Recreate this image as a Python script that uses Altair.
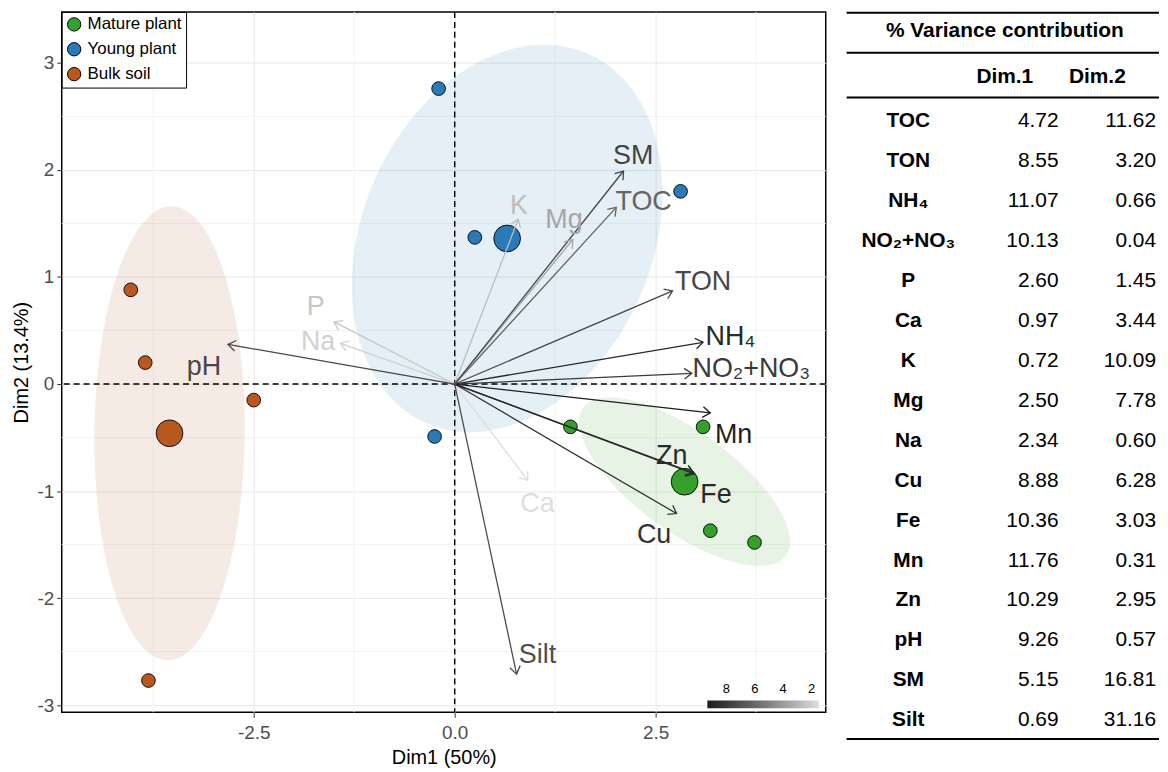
import altair as alt
import numpy as np
import pandas as pd

FONT = "Liberation Sans"

# ---------------- individuals (PCA scores) ----------------
ind_group = ["Mature plant"] * 4 + ["Young plant"] * 4 + ["Bulk soil"] * 4
ind_x = [1.44, 3.09, 3.18, 3.73, -0.20, 0.25, 2.81, -0.25, -4.03, -3.85, -2.50, -3.81]
ind_y = [-0.40, -0.40, -1.37, -1.48, 2.76, 1.37, 1.80, -0.49, 0.88, 0.20, -0.15, -2.77]

group_names = ["Mature plant", "Young plant", "Bulk soil"]
group_colors = ["#36a02d", "#2a7ab8", "#b8581f"]

# ---------------- variables (arrows) ----------------
var_names = ["TOC", "TON", "NH₄", "NO₂+NO₃", "P", "Ca", "K", "Mg", "Na", "Cu", "Fe", "Mn", "Zn", "pH", "SM", "Silt"]
var_x = [2.01, 2.71, 3.09, 2.95, -1.50, 0.91, 0.79, 1.47, -1.42, 2.76, 2.98, 3.18, 2.97, -2.82, 2.10, 0.77]
var_y = [1.65, 0.87, 0.39, 0.10, 0.58, -0.90, 1.54, 1.35, 0.38, -1.21, -0.84, -0.27, -0.83, 0.37, 1.99, -2.71]
lab_x = [2.35, 3.09, 3.43, 3.69, -1.73, 1.03, 0.80, 1.36, -1.70, 2.48, 3.25, 3.47, 2.70, -3.12, 2.22, 1.03]
lab_y = [1.70, 0.95, 0.44, 0.14, 0.72, -1.12, 1.66, 1.53, 0.39, -1.41, -1.04, -0.48, -0.67, 0.16, 2.13, -2.53]

# ---------------- table: % variance contribution ----------------
contrib_dim1 = [4.72, 8.55, 11.07, 10.13, 2.60, 0.97, 0.72, 2.50, 2.34, 8.88, 10.36, 11.76, 10.29, 9.26, 5.15, 0.69]
contrib_dim2 = [11.62, 3.20, 0.66, 0.04, 1.45, 3.44, 10.09, 7.78, 0.60, 6.28, 3.03, 0.31, 2.95, 0.57, 16.81, 31.16]
eig_pct = [50.0, 13.4]

# axis ticks
x_major = [-2.5, 0.0, 2.5]
x_minor = [-3.75, -1.25, 1.25, 3.75]
y_major = [-3, -2, -1, 0, 1, 2, 3]
y_minor = [-2.5, -1.5, -0.5, 0.5, 1.5, 2.5]
legend_values = [8, 6, 4, 2]

# ---------------- derived frames ----------------
ind_df = pd.DataFrame({"group": ind_group, "x": ind_x, "y": ind_y})
ind_df["kind"] = 0
means = ind_df.groupby("group", sort=False)[["x", "y"]].mean().reset_index()
means["kind"] = 1
pts_df = pd.concat([ind_df, means], ignore_index=True)

# normal-theory ellipses (stat_ellipse type="norm", level 0.5)
ell_rows = []
t = np.linspace(0, 2 * np.pi, 121)
for g in group_names:
    sub = ind_df[ind_df.group == g][["x", "y"]].to_numpy()
    m = sub.mean(axis=0)
    cov = np.cov(sub.T)
    d = len(sub) - 1
    level = 0.5
    fq = d / 2 * ((1 - level) ** (-2 / d) - 1)
    r = np.sqrt(2 * fq)
    vals, vecs = np.linalg.eigh(cov)
    circ = np.stack([np.cos(t), np.sin(t)])
    e = m[:, None] + r * (vecs @ (np.sqrt(vals)[:, None] * circ))
    for i in range(len(t)):
        ell_rows.append({"group": g, "ex": e[0, i], "ey": e[1, i], "idx": i})
ell_df = pd.DataFrame(ell_rows)

contrib_12 = [(a * eig_pct[0] + b * eig_pct[1]) / sum(eig_pct) for a, b in zip(contrib_dim1, contrib_dim2)]
PX_X, PX_Y = 80.8, 107.6  # pixel per unit (for arrow-head orientation)
angles = [(-np.degrees(np.arctan2(vy * PX_Y, vx * PX_X))) % 360 for vx, vy in zip(var_x, var_y)]
var_df = pd.DataFrame({
    "name": var_names, "vx": var_x, "vy": var_y, "lx": lab_x, "ly": lab_y,
    "contrib": contrib_12, "ang": angles, "ox": 0.0, "oy": 0.0,
})

xscale = alt.Scale(domain=[-4.889, 4.616], nice=False, zero=False)
yscale = alt.Scale(domain=[-3.067, 3.476], nice=False, zero=False)

x_axis = alt.Axis(
    values=x_major, grid=True, gridColor="#e8e8e8", gridWidth=1,
    labelExpr="datum.value < 0 ? '-' + format(-datum.value, '.1f') : format(datum.value, '.1f')",
    labelFont=FONT, labelFontSize=19, labelColor="#4d4d4d", labelPadding=6,
    tickColor="#333333", tickSize=5, domain=False,
    title="Dim1 (50%)", titleFont=FONT, titleFontSize=20, titleFontWeight="normal",
    titleColor="black", titlePadding=5,
)
y_axis = alt.Axis(
    values=y_major, grid=True, gridColor="#e8e8e8", gridWidth=1,
    labelExpr="datum.value < 0 ? '-' + format(-datum.value, 'd') : format(datum.value, 'd')",
    labelFont=FONT, labelFontSize=19, labelColor="#4d4d4d", labelPadding=3,
    tickColor="#333333", tickSize=5, domain=False,
    title="Dim2 (13.4%)", titleFont=FONT, titleFontSize=20, titleFontWeight="normal",
    titleColor="black", titlePadding=6,
)

minor_x_df = pd.DataFrame({"v": x_minor})
minor_y_df = pd.DataFrame({"v": y_minor})
grid_x = alt.Chart(minor_x_df).mark_rule(color="#f3f3f3", strokeWidth=1).encode(
    x=alt.X("v:Q", scale=xscale, axis=x_axis))
grid_y = alt.Chart(minor_y_df).mark_rule(color="#f3f3f3", strokeWidth=1).encode(
    y=alt.Y("v:Q", scale=yscale, axis=y_axis))

ellipses = alt.Chart(ell_df).mark_line(filled=True, fillOpacity=0.12, strokeWidth=0).encode(
    x=alt.X("ex:Q", scale=xscale),
    y=alt.Y("ey:Q", scale=yscale),
    order="idx:Q",
    detail="group:N",
    color=alt.Color("group:N", scale=alt.Scale(domain=group_names, range=group_colors), legend=None),
)

zero_df = pd.DataFrame({"v": [0.0]})
zero_x = alt.Chart(zero_df).mark_rule(color="black", strokeDash=[6, 4], strokeWidth=1.4).encode(
    x=alt.X("v:Q", scale=xscale))
zero_y = alt.Chart(zero_df).mark_rule(color="black", strokeDash=[6, 4], strokeWidth=1.4).encode(
    y=alt.Y("v:Q", scale=yscale))

points = alt.Chart(pts_df).mark_point(filled=True, shape="circle", stroke="black", strokeWidth=0.9, opacity=1).encode(
    x=alt.X("x:Q", scale=xscale),
    y=alt.Y("y:Q", scale=yscale),
    fill=alt.Fill("group:N", scale=alt.Scale(domain=group_names, range=group_colors),
                  legend=alt.Legend(title=None, orient="none", legendX=0, legendY=0, padding=4,
                                    fillColor="white", strokeColor="black",
                                    labelFont=FONT, labelFontSize=17, labelColor="black",
                                    labelOffset=5, symbolType="circle", symbolSize=180,
                                    symbolStrokeColor="black", symbolStrokeWidth=1,
                                    symbolOpacity=1, rowPadding=6, cornerRadius=0)),
    size=alt.Size("kind:Q", scale=alt.Scale(domain=[0, 1], range=[190, 720]), legend=None),
)

stroke_scale = alt.Scale(domain=[max(contrib_12), min(contrib_12)], range=["#1e1e1e", "#dedede"])
stroke_legend = alt.Legend(title=None, orient="none", legendX=649, legendY=692, padding=0,
                           direction="horizontal",
                           gradientLength=112, gradientThickness=8, values=legend_values,
                           labelFont=FONT, labelFontSize=13, labelColor="black",
                           labelOffset=alt.ExprRef(expr="-25"), gradientStrokeWidth=0)

arrows = alt.Chart(var_df).mark_rule(strokeWidth=1.3).encode(
    x=alt.X("ox:Q", scale=xscale), y=alt.Y("oy:Q", scale=yscale),
    x2="vx:Q", y2="vy:Q",
    stroke=alt.Stroke("contrib:Q", scale=stroke_scale, legend=stroke_legend),
)
heads = alt.Chart(var_df).mark_point(shape="M -1 -0.7 L 0 0 L -1 0.7", filled=False, size=230,
                                     strokeWidth=1.3, opacity=1).encode(
    x=alt.X("vx:Q", scale=xscale), y=alt.Y("vy:Q", scale=yscale),
    angle=alt.Angle("ang:Q", scale=None),
    stroke=alt.Stroke("contrib:Q", scale=stroke_scale, legend=stroke_legend),
)
labels = alt.Chart(var_df).mark_text(font=FONT, fontSize=27, align="center", baseline="middle").encode(
    x=alt.X("lx:Q", scale=xscale), y=alt.Y("ly:Q", scale=yscale),
    text="name:N",
    color=alt.Color("contrib:Q", scale=stroke_scale, legend=None),
)

plot = alt.layer(grid_x, grid_y, ellipses, zero_x, zero_y, points, arrows, heads, labels).resolve_scale(
    color="independent"
).properties(width=768, height=704, view=alt.ViewBackground(stroke="black", strokeWidth=1.5))

# ---------------- table ----------------
tbl_df = pd.DataFrame({
    "name": var_names,
    "d1": [f"{v:.2f}" for v in contrib_dim1],
    "d2": [f"{v:.2f}" for v in contrib_dim2],
    "row": list(range(len(var_names))),
})
TW = 314
tyscale = alt.Scale(domain=[-2.74, 14.8], reverse=True, nice=False, zero=False)

t_names = alt.Chart(tbl_df).mark_text(font=FONT, fontSize=21, fontWeight="bold", align="center",
                                      baseline="middle", color="black").encode(
    x=alt.value(62), y=alt.Y("row:Q", scale=tyscale, axis=None), text="name:N")
t_d1 = alt.Chart(tbl_df).mark_text(font=FONT, fontSize=21, align="right", baseline="middle",
                                   color="black").encode(
    x=alt.value(213), y=alt.Y("row:Q", scale=tyscale, axis=None), text="d1:N")
t_d2 = alt.Chart(tbl_df).mark_text(font=FONT, fontSize=21, align="right", baseline="middle",
                                   color="black").encode(
    x=alt.value(311), y=alt.Y("row:Q", scale=tyscale, axis=None), text="d2:N")

head_df = pd.DataFrame({"txt": ["% Variance contribution", "Dim.1", "Dim.2"],
                        "row": [-2.27, -1.12, -1.12], "cx": [159, 159, 252]})
t_head = alt.Chart(head_df).mark_text(font=FONT, fontSize=21, fontWeight="bold", align="center",
                                      baseline="middle", color="black").encode(
    x=alt.X("cx:Q", scale=alt.Scale(domain=[0, TW], nice=False, zero=True), axis=None),
    y=alt.Y("row:Q", scale=tyscale, axis=None), text="txt:N")

line_df = pd.DataFrame({"row": [-2.72, -1.72, -0.6, 15.47]})
t_lines = alt.Chart(line_df).mark_rule(color="black", strokeWidth=2).encode(
    x=alt.value(0), x2=alt.value(TW), y=alt.Y("row:Q", scale=tyscale, axis=None))

table = alt.layer(t_lines, t_head, t_names, t_d1, t_d2).properties(
    width=TW, height=704, view=alt.ViewBackground(strokeWidth=0))

chart = alt.hconcat(plot, table, spacing=18).properties(
    padding={"left": 2, "top": 0, "right": 0, "bottom": 0}
).configure_view(strokeWidth=0)

chart.save("out.html", embed_options={"renderer": "svg", "actions": False})
